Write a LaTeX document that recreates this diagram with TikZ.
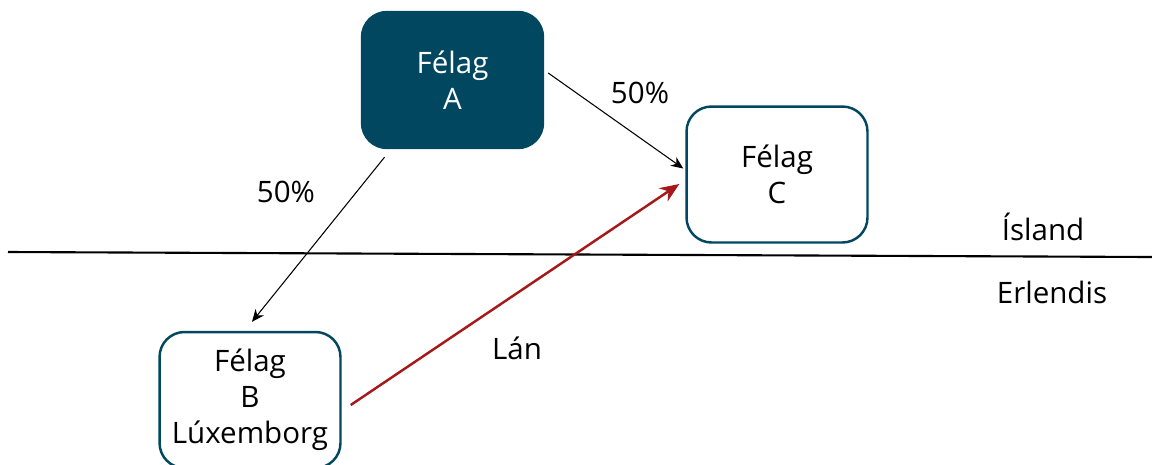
\documentclass[tikz,border=0pt]{standalone}
\usepackage{fontspec}
\setmainfont{Open Sans}
\usetikzlibrary{arrows.meta}
\definecolor{felagblue}{RGB}{2,71,96}
\definecolor{lanred}{RGB}{166,25,26}
\begin{document}
\begin{tikzpicture}[x=0.02cm,y=-0.02cm,
	every node/.style={font=\fontsize{16.8}{20.4}\selectfont,align=center},
	felag/.style={rounded corners=0.5cm,minimum width=3.62cm,minimum height=2.72cm,line width=1.4pt,draw=felagblue},
	owns/.style={line width=0.6pt,-{Stealth[length=7pt,width=6pt]}},
	loan/.style={line width=1.4pt,draw=lanred,-{Stealth[length=11pt,width=9pt]}}]
		\useasboundingbox (0,0) rectangle (1152,464);

		\node[felag,fill=felagblue,text=white] (A)at(452.5,80){Félag\\A};
		\node[felag] (C)at(777,174.5){Félag\\C};
		\node[felag] (B)at(250,400){Félag\\B\\Lúxemborg};

		\coordinate (wl)at(8,252);
		\coordinate (wr)at(1152,257);
		\draw [line width=1.2pt] (wl) -- (wr);

		\node (is)at(1043,227){Ísland};
		\node (er)at(1052,292){Erlendis};

		\node (pc)at(640,93){50\%};
		\node (pb)at(286,192){50\%};
		\node (ln)at(517,348){Lán};

		\draw [owns] ([shift={(4,-7)}]A.east) -- ([shift={(-2,-6)}]C.west);
		\draw [owns] ([shift={(-68,8)}]A.south) -- ([shift={(2,-9)}]B.north);
		\draw [loan] ([shift={(9,5)}]B.east) -- ([shift={(-6,9.5)}]C.west);
	\end{tikzpicture}
\end{document}
